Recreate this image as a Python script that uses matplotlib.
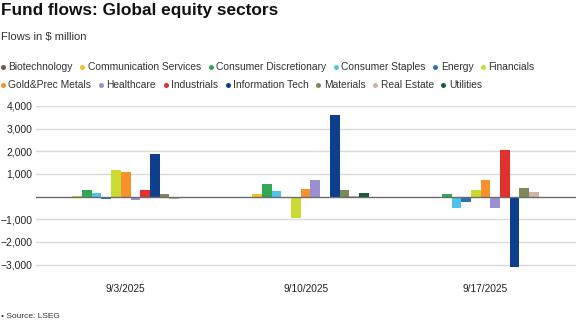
import matplotlib
matplotlib.use("Agg")
import matplotlib.pyplot as plt
from matplotlib.lines import Line2D
import numpy as np

plt.rcParams['font.family'] = ['Liberation Sans', 'DejaVu Sans']

dates = ["9/3/2025", "9/10/2025", "9/17/2025"]
sectors = ["Biotechnology", "Communication Services", "Consumer Discretionary",
           "Consumer Staples", "Energy", "Financials", "Gold&Prec Metals",
           "Healthcare", "Industrials", "Information Tech", "Materials",
           "Real Estate", "Utilities"]
colors = ["#6f5b50", "#f1c22a", "#31a653", "#50c2ee", "#2f72b3", "#cbdb31",
          "#f7912c", "#9a8fd1", "#e0312f", "#0d3f8d", "#7d8a58", "#cfb2a2",
          "#1a5b33"]

# weekly flows, $ million, one list per sector (order of dates)
biotech = [0, 0, 0]
comm_services = [30, 130, 0]
cons_disc = [290, 545, 100]
cons_staples = [180, 250, -490]
energy = [-90, -70, -220]
financials = [1165, -960, 295]
gold = [1090, 325, 720]
healthcare = [-160, 720, -490]
industrials = [280, 0, 2065]
info_tech = [1870, 3600, -3110]
materials = [100, 295, 370]
real_estate = [-120, 30, 190]
utilities = [0, 150, 0]

series = [biotech, comm_services, cons_disc, cons_staples, energy, financials,
          gold, healthcare, industrials, info_tech, materials, real_estate,
          utilities]

W, H = 576, 323
fig = plt.figure(figsize=(W / 100, H / 100), dpi=100)

ax = fig.add_axes([35.7 / W, 1 - 272 / H, (575.5 - 35.7) / W, (272 - 106) / H])
x = np.arange(len(dates))
n = len(series)
bw = 0.7 / n
for i, (vals, c) in enumerate(zip(series, colors)):
    ax.bar(x - 0.35 + bw * (i + 0.5), vals, width=bw, color=c, linewidth=0, zorder=3)

ax.set_xlim(-0.5, 2.5)
ax.set_ylim(-3330, 4000)
yt = [-3000, -2000, -1000, 1000, 2000, 3000, 4000]
ax.set_yticks(yt)
ax.set_yticklabels([f"{v:,}".replace("-", "\u2212") for v in yt])
for v in yt:
    ax.axhline(v, color="#d9d9d9", linewidth=1, zorder=1)
ax.axhline(0, color="#6b6b6b", linewidth=1, zorder=4)
ax.set_xticks(x)
ax.set_xticklabels(dates)
ax.tick_params(axis="both", length=0, colors="#222222")
ax.tick_params(axis="x", pad=9, labelsize=7.3)
ax.tick_params(axis="y", pad=2.5, labelsize=7.5)
for s in ax.spines.values():
    s.set_visible(False)
ax.patch.set_alpha(0)

fig.text(1 / W, 1 - 11 / H, "Fund flows: Global equity sectors", fontsize=12.4,
         fontweight="bold", va="center", ha="left", color="#111111")
fig.text(1 / W, 1 - 37 / H, "Flows in $ million", fontsize=8.1,
         va="center", ha="left", color="#333333")

# legend rows laid out left to right
rows = [sectors[:6], sectors[6:]]
row_y = [67, 85]
fig.canvas.draw()
renderer = fig.canvas.get_renderer()
k = 0
for names, yy in zip(rows, row_y):
    xp = 3.0
    for name in names:
        fig.add_artist(Line2D([xp / W], [1 - yy / H], transform=fig.transFigure,
                              marker="o", markersize=3.6, linestyle="none",
                              markerfacecolor=colors[k], markeredgewidth=0))
        t = fig.text((xp + 5.5) / W, 1 - yy / H, name, fontsize=7.35,
                     va="center", ha="left", color="#333333")
        wpx = t.get_window_extent(renderer).width
        xp = xp + 5.5 + wpx + 9.5
        k += 1

fig.text(1 / W, 1 - 316 / H, "\u2022 Source: LSEG", fontsize=6,
         va="center", ha="left", color="#333333")

fig.savefig("out.png", dpi=100)
